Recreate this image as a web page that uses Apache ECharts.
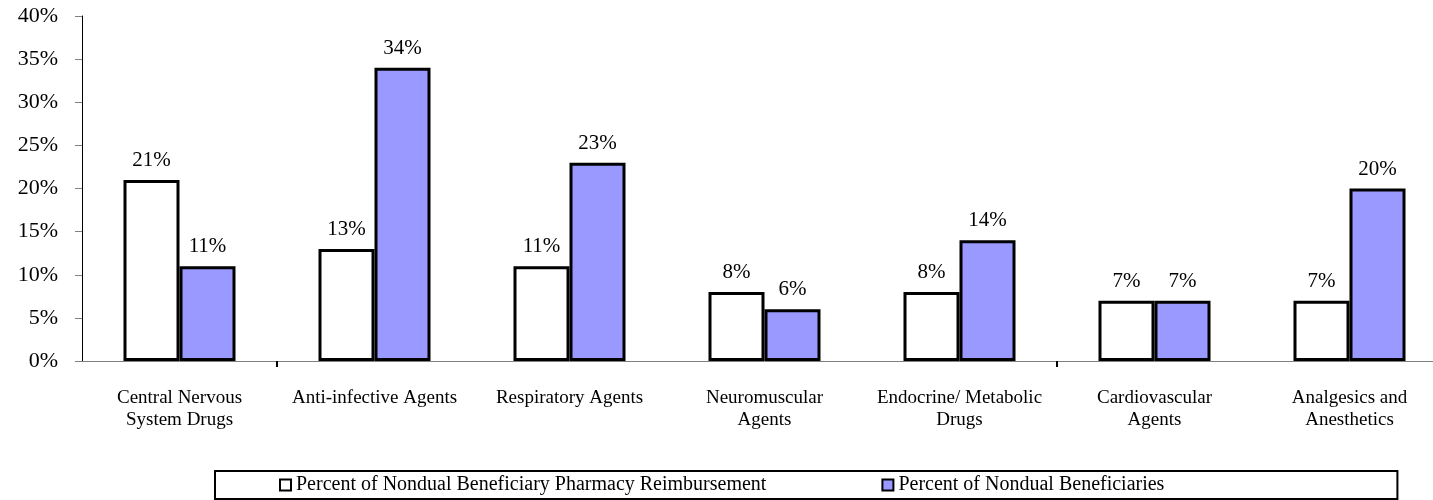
<!DOCTYPE html>
<html>
<head>
<meta charset="utf-8">
<script src="https://cdn.jsdelivr.net/npm/echarts@6/dist/echarts.min.js"></script>
<style>
  html, body { margin: 0; padding: 0; background: #fff; overflow: hidden; }
  #chart { width: 1447px; height: 500px; }
</style>
</head>
<body>
<div id="chart"></div>
<script>
const categories = [
    'Central Nervous\nSystem Drugs',
    'Anti-infective Agents',
    'Respiratory Agents',
    'Neuromuscular\nAgents',
    'Endocrine/ Metabolic\nDrugs',
    'Cardiovascular\nAgents',
    'Analgesics and\nAnesthetics'
];
const reimbursement = [21, 13, 11, 8, 8, 7, 7];
const beneficiaries = [11, 34, 23, 6, 14, 7, 20];
const yTicks = [0, 5, 10, 15, 20, 25, 30, 35, 40];

const FONT = '"Liberation Serif", "DejaVu Serif", serif';

const chart = echarts.init(document.getElementById('chart'));

const labelStyle = {
    show: true,
    position: 'top',
    distance: 9,
    color: '#000',
    fontFamily: FONT,
    fontSize: 21,
    formatter: p => p.value + '%'
};

chart.setOption({
    animation: false,
    textStyle: { fontFamily: FONT },
    grid: { left: 82, right: 0, top: 16, bottom: 139, containLabel: false },
    legend: {
        bottom: 1,
        left: 215,
        itemGap: 115,
        padding: [4, 233, 4, 64],
        itemWidth: 11,
        itemHeight: 11,
        borderColor: '#000',
        borderWidth: 2,
        textStyle: { fontFamily: FONT, fontSize: 20, color: '#000' },
        data: [
            { name: 'Percent of Nondual Beneficiary Pharmacy Reimbursement', icon: 'rect' },
            { name: 'Percent of Nondual Beneficiaries', icon: 'rect' }
        ]
    },
    xAxis: {
        type: 'category',
        data: categories,
        axisLine: { lineStyle: { color: '#808080', width: 1 } },
        axisTick: {
            show: true,
            length: 6,
            interval: (index) => index === 1 || index === 5,
            lineStyle: { color: '#000', width: 2 }
        },
        axisLabel: {
            interval: 0,
            margin: 26,
            color: '#000',
            fontFamily: FONT,
            fontSize: 19,
            lineHeight: 22
        }
    },
    yAxis: {
        type: 'value',
        min: yTicks[0],
        max: yTicks[yTicks.length - 1],
        interval: 5,
        splitLine: { show: false },
        axisLine: { show: true, lineStyle: { color: '#000', width: 1 } },
        axisTick: { show: true, length: 7, lineStyle: { color: '#808080' } },
        axisLabel: {
            color: '#000',
            fontFamily: FONT,
            fontSize: 22,
            margin: 24,
            formatter: v => v + '%'
        }
    },
    series: [
        {
            name: 'Percent of Nondual Beneficiary Pharmacy Reimbursement',
            type: 'bar',
            data: reimbursement,
            barWidth: 56,
            barGap: '0%',
            itemStyle: { color: '#ffffff', borderColor: '#000', borderWidth: 3 },
            label: labelStyle
        },
        {
            name: 'Percent of Nondual Beneficiaries',
            type: 'bar',
            data: beneficiaries,
            barWidth: 56,
            barGap: '0%',
            itemStyle: { color: '#9999ff', borderColor: '#000', borderWidth: 3 },
            label: labelStyle
        }
    ]
});
</script>
</body>
</html>
